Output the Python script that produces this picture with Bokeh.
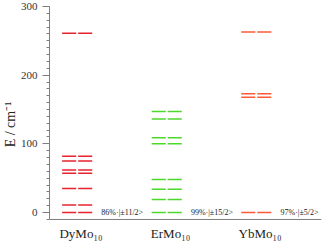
from bokeh.plotting import figure
from bokeh.models import Range1d, SingleIntervalTicker, Label, Title, Span
from bokeh.embed import file_html
from bokeh.resources import INLINE

categories = ["DyMo₁₀", "ErMo₁₀", "YbMo₁₀"]
dy_levels = [0, 11, 35, 57, 62, 75, 82, 261]
er_levels = [0, 19, 34, 48, 100, 109, 136, 147]
yb_levels = [0, 168, 173, 263]
ground_labels = ["86%·|±11/2>", "99%·|±15/2>", "97%·|±5/2>"]

series = [dy_levels, er_levels, yb_levels]
colors = ["#e8232e", "#4fd82c", "#ff5a36"]
SERIF = "Liberation Serif"
axis_col = "#7f7f7f"
y_floor = -10.2    # where the horizontal axis line sits
y_bottom = -43.7   # frame extends below to hold the category names

p = figure(width=323, height=242, output_backend="svg", toolbar_location=None,
           x_range=Range1d(-0.309, 2.728), y_range=Range1d(y_bottom, 300),
           min_border_left=41, min_border_right=2, min_border_top=6, min_border_bottom=0)
p.outline_line_color = None
p.grid.visible = False
p.background_fill_color = "white"
p.xaxis.visible = False

half, gap = 0.168, 0.011
for i, (levels, col) in enumerate(zip(series, colors)):
    n = len(levels)
    p.segment(x0=[i - half] * n, x1=[i - gap] * n, y0=levels, y1=levels,
              line_color=col, line_width=1.5)
    p.segment(x0=[i + gap] * n, x1=[i + half] * n, y0=levels, y1=levels,
              line_color=col, line_width=1.5)
    p.add_layout(Label(x=i + 0.27, y=levels[0], text=ground_labels[i],
                       text_font=SERIF, text_font_size="8px", text_color="#222222",
                       text_baseline="middle", text_align="left"))
    p.add_layout(Label(x=i + 0.042, y=-30.6, text=categories[i],
                       text_font=SERIF, text_font_size="13px", text_color="#222222",
                       text_baseline="alphabetic", text_align="center"))

p.add_layout(Span(location=y_floor, dimension="width", line_color=axis_col, line_width=1))

ya = p.yaxis[0]
ya.bounds = (y_floor, 300)
ya.ticker = SingleIntervalTicker(interval=100, num_minor_ticks=10)
ya.axis_line_color = axis_col
ya.major_tick_line_color = axis_col
ya.minor_tick_line_color = axis_col
ya.major_tick_out = 7
ya.major_tick_in = 0
ya.minor_tick_out = 3
ya.minor_tick_in = 0
ya.major_label_text_font = SERIF
ya.major_label_text_font_size = "11px"
ya.major_label_text_color = "#333333"
ya.major_label_standoff = 5

p.add_layout(Title(text="E / cm⁻¹", text_font=SERIF, text_font_style="normal",
                   text_font_size="14px", text_color="#222222", align="center",
                   offset=22, standoff=0), "left")

open("out.html", "w").write(file_html(p, INLINE))
